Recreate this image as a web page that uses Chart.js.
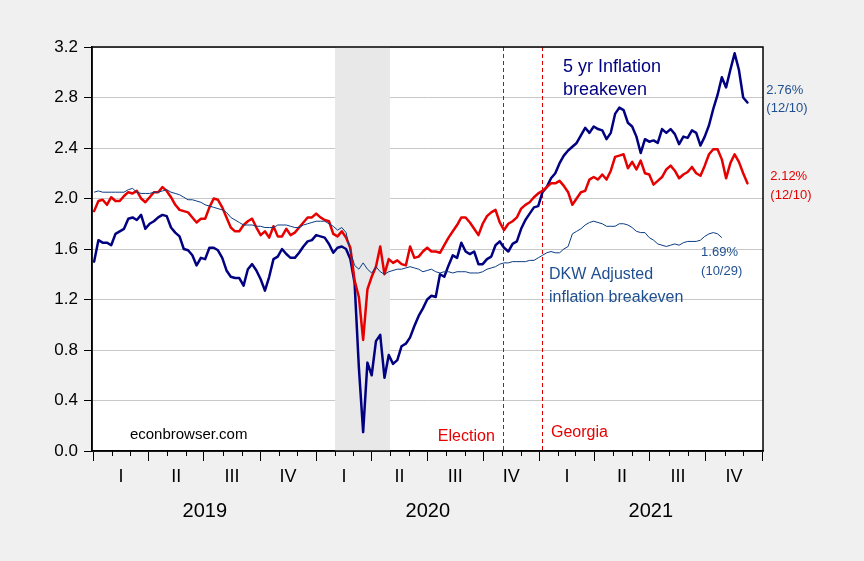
<!DOCTYPE html>
<html><head><meta charset="utf-8">
<style>html,body{margin:0;padding:0;background:#f0f0f0;overflow:hidden}</style>
<script src="https://cdn.jsdelivr.net/npm/chart.js@4.4.1/dist/chart.umd.min.js"></script>
</head><body>
<canvas id="c" width="864" height="561"></canvas>
<script>
// ---- data (weekly observations starting 2019-01-02) ----
const firstObs = [2019, 0, 2];
const stepDays = 7;
const breakeven5y = [
1.50,1.67,1.65,1.65,1.63,1.72,1.74,1.76,1.84,1.85,
1.83,1.87,1.76,1.80,1.82,1.85,1.87,1.86,1.77,1.73,
1.70,1.60,1.59,1.55,1.47,1.53,1.52,1.61,1.61,1.59,
1.53,1.43,1.38,1.37,1.37,1.31,1.44,1.48,1.43,1.36,
1.27,1.38,1.52,1.54,1.60,1.56,1.53,1.53,1.57,1.62,
1.66,1.67,1.71,1.70,1.69,1.64,1.57,1.61,1.62,
1.60,1.52,1.33,0.66,0.15,0.70,0.60,0.87,0.92,0.58,0.76,0.69,0.72,0.83,0.85,0.90,0.99,1.07,1.13,1.20,1.23,1.22,1.40,
1.38,1.47,1.55,1.53,1.65,1.58,1.56,1.58,1.48,1.48,1.52,1.54,1.63,1.66,
1.61,1.58,1.64,1.66,1.76,1.83,1.88,1.93,1.94,2.05,
2.09,2.16,2.20,2.28,2.34,2.38,2.41,2.44,2.50,2.56,
2.52,2.57,2.55,2.54,2.47,2.52,2.67,2.72,2.70,2.60,
2.57,2.49,2.36,2.47,2.45,2.46,2.44,2.55,2.52,2.55,
2.51,2.43,2.49,2.48,2.54,2.52,2.42,2.49,2.58,2.71,
2.82,2.96,2.88,3.02,3.15,3.02,2.80,2.76];
const breakevenRed = [
1.90,1.98,1.99,1.95,2.01,1.98,1.98,2.02,2.05,2.04,
2.06,2.00,1.97,2.01,2.05,2.05,2.09,2.06,2.01,1.95,
1.91,1.90,1.89,1.85,1.81,1.84,1.84,1.93,2.00,1.99,
1.93,1.85,1.77,1.74,1.74,1.79,1.82,1.84,1.77,1.71,
1.74,1.69,1.78,1.70,1.70,1.76,1.71,1.73,1.77,1.81,
1.85,1.85,1.88,1.85,1.83,1.82,1.72,1.70,1.74,
1.69,1.61,1.35,1.22,0.88,1.28,1.38,1.46,1.62,1.40,1.52,1.49,1.51,1.48,1.47,1.62,1.53,1.54,1.58,1.61,1.58,1.58,1.57,
1.63,1.69,1.74,1.79,1.85,1.85,1.81,1.76,1.71,1.80,1.86,1.89,1.91,1.81,
1.75,1.80,1.82,1.85,1.92,1.95,1.97,2.01,2.04,2.06,
2.09,2.12,2.12,2.14,2.10,2.05,1.95,2.00,2.05,2.06,
2.15,2.17,2.15,2.19,2.15,2.22,2.33,2.34,2.35,2.24,
2.29,2.23,2.30,2.20,2.19,2.11,2.14,2.17,2.23,2.26,
2.22,2.16,2.19,2.21,2.25,2.20,2.18,2.26,2.35,2.39,
2.39,2.31,2.16,2.28,2.35,2.29,2.20,2.12];
const dkwAdjusted = [
2.05,2.06,2.05,2.05,2.05,2.05,2.05,2.05,2.07,2.08,
2.05,2.04,2.04,2.04,2.05,2.05,2.06,2.07,2.05,2.04,
2.03,2.01,1.99,1.99,1.98,1.97,1.95,1.94,1.93,1.92,
1.91,1.89,1.85,1.83,1.81,1.79,1.79,1.79,1.78,1.78,
1.77,1.77,1.77,1.79,1.79,1.79,1.78,1.77,1.77,1.79,
1.80,1.81,1.82,1.82,1.82,1.80,1.78,1.75,1.77,
1.73,1.58,1.47,1.44,1.49,1.44,1.41,1.46,1.42,1.40,1.42,1.43,1.44,1.44,1.45,1.46,1.45,1.44,1.42,1.43,1.44,1.42,1.41,
1.42,1.42,1.41,1.42,1.42,1.42,1.41,1.41,1.41,1.42,1.44,1.45,1.46,1.48,
1.49,1.49,1.50,1.50,1.50,1.50,1.51,1.51,1.53,1.55,
1.57,1.58,1.57,1.57,1.60,1.62,1.72,1.74,1.76,1.79,
1.81,1.82,1.81,1.80,1.78,1.78,1.78,1.80,1.80,1.79,
1.77,1.74,1.73,1.73,1.69,1.67,1.64,1.63,1.62,1.63,
1.64,1.63,1.65,1.66,1.66,1.66,1.67,1.70,1.72,1.73,
1.72,1.69];
const quarterLabels = ['I','II','III','IV'];
const yearLabels = ['2019','2020','2021'];
const yTickValues = [0,0.4,0.8,1.2,1.6,2.0,2.4,2.8,3.2];
const recession = [[2020,1,1],[2020,4,1]];
const eventDates = [[2020,10,3],[2021,0,6]];

// ---- helpers ----
const FONT = "'Liberation Sans', Arial, Helvetica, sans-serif";
const DAY0 = Date.UTC(2019,0,1);
const dayOf = (y,m,d=1) => (Date.UTC(y,m,d)-DAY0)/86400000;
const obs0 = dayOf(...firstObs);
const toPts = arr => arr.map((v,i)=>({x: obs0 + i*stepDays, y: v}));

const monthStarts = [];
yearLabels.forEach(ys=>{ const y=+ys; for(let m=0;m<12;m++) monthStarts.push(dayOf(y,m)); });
monthStarts.push(dayOf(+yearLabels[yearLabels.length-1]+1,0));
const quarterStarts = monthStarts.filter((_,i)=>i%3===0);
const quarterMids = [];
for (let k=0;k<quarterStarts.length-1;k++) quarterMids.push({value:(quarterStarts[k]+quarterStarts[k+1])/2, label:quarterLabels[k%4]});
const yearMids = yearLabels.map((y,k)=>({value:(dayOf(+y,0)+dayOf(+y+1,0))/2, label:y}));
const key = v => Math.round(v*10);
const qLabelMap = new Map(quarterMids.map(q=>[key(q.value), q.label]));
const qStartSet = new Set(quarterStarts.map(key));
const yLabelMap = new Map(yearMids.map(q=>[key(q.value), q.label]));
const XMIN = -2.5, XMAX = dayOf(2022,0) + 1.5;

const annotations = [
  {t:'5 yr Inflation', x:769.6, y:3.00, c:'#000080', s:18},
  {t:'breakeven', x:769.6, y:2.817, c:'#000080', s:18},
  {t:'DKW Adjusted', x:746.7, y:1.365, c:'#1f4f8f', s:16},
  {t:'inflation breakeven', x:746.7, y:1.183, c:'#1f4f8f', s:16},
  {t:'1.69%', x:996, y:1.548, c:'#1f4f8f', s:13},
  {t:'(10/29)', x:996, y:1.395, c:'#1f4f8f', s:13},
  {t:'2.76%', x:1103, y:2.825, c:'#1f4f8f', s:13},
  {t:'(12/10)', x:1103, y:2.683, c:'#1f4f8f', s:13},
  {t:'2.12%', x:1109.5, y:2.143, c:'#e60000', s:13},
  {t:'(12/10)', x:1109.5, y:2.0, c:'#e60000', s:13},
  {t:'Election', x:564.5, y:0.079, c:'#e60000', s:16},
  {t:'Georgia', x:750, y:0.111, c:'#e60000', s:16},
  {t:'econbrowser.com', x:59.6, y:0.095, c:'#000000', s:15}
];

const decor = {
  id:'decor',
  beforeDraw(chart){
    const {ctx, chartArea:a} = chart;
    ctx.save();
    ctx.fillStyle='#f0f0f0'; ctx.fillRect(0,0,chart.width,chart.height);
    ctx.fillStyle='#ffffff'; ctx.fillRect(a.left,a.top,a.right-a.left,a.bottom-a.top);
    ctx.restore();
  },
  beforeDatasetsDraw(chart){
    const {ctx, chartArea:a, scales:{x}} = chart;
    ctx.save();
    const r0 = x.getPixelForValue(dayOf(...recession[0])), r1 = x.getPixelForValue(dayOf(...recession[1]));
    ctx.fillStyle='#e8e8e8'; ctx.fillRect(r0, a.top, r1-r0, a.bottom-a.top);
    ctx.strokeStyle='#e00000'; ctx.lineWidth=1; ctx.setLineDash([4,3]);
    eventDates.forEach(d=>{ const px=Math.round(x.getPixelForValue(dayOf(...d)))+0.5; ctx.beginPath(); ctx.moveTo(px,a.top); ctx.lineTo(px,a.bottom); ctx.stroke(); });
    ctx.restore();
  },
  afterDatasetsDraw(chart){
    const {ctx, chartArea:a, scales:{x,y}} = chart;
    ctx.save();
    ctx.strokeStyle='#000'; ctx.lineWidth=1.5;
    ctx.strokeRect(a.left, a.top, a.right-a.left, a.bottom-a.top);
    ctx.lineWidth=1;
    monthStarts.forEach(d=>{ if (qStartSet.has(key(d))) return; const px=Math.round(x.getPixelForValue(d))+0.5; ctx.beginPath(); ctx.moveTo(px,a.bottom); ctx.lineTo(px,a.bottom+5); ctx.stroke(); });
    ctx.textBaseline='alphabetic'; ctx.textAlign='left';
    annotations.forEach(n=>{ ctx.fillStyle=n.c; ctx.font=n.s+'px '+FONT; ctx.fillText(n.t, x.getPixelForValue(n.x), y.getPixelForValue(n.y)); });
    ctx.restore();
  }
};

new Chart(document.getElementById('c'), {
  type:'line',
  data:{ datasets:[
    {label:'DKW adjusted', data:toPts(dkwAdjusted), borderColor:'#0a3c82', borderWidth:1, pointRadius:0, tension:0},
    {label:'Breakeven (red)', data:toPts(breakevenRed), borderColor:'#e60000', borderWidth:2.5, pointRadius:0, tension:0, borderJoinStyle:'round', borderCapStyle:'round'},
    {label:'5 yr breakeven', data:toPts(breakeven5y), borderColor:'#000080', borderWidth:2.5, pointRadius:0, tension:0, borderJoinStyle:'round', borderCapStyle:'round'}
  ]},
  options:{
    responsive:false, animation:false, devicePixelRatio:1,
    layout:{padding:{left:0, right:101, top:47, bottom:30}},
    plugins:{legend:{display:false}, tooltip:{enabled:false}},
    scales:{
      x:{type:'linear', position:'bottom', min:XMIN, max:XMAX,
        afterBuildTicks:s=>{ s.ticks = [...quarterStarts.map(v=>({value:v})), ...quarterMids.map(q=>({value:q.value}))].sort((a,b)=>a.value-b.value); },
        ticks:{autoSkip:false, maxRotation:0, minRotation:0, padding:5, color:'#000', font:{family:FONT, size:18, lineHeight:1.2},
          callback:v=> qLabelMap.get(key(v)) || ''},
        grid:{drawOnChartArea:false, drawTicks:true, tickLength:10, tickWidth:1,
          tickColor:ctx=> (ctx.tick && qStartSet.has(key(ctx.tick.value))) ? '#000' : 'rgba(0,0,0,0)'},
        border:{display:true, color:'#000', width:1.5},
        afterFit:s=>{ s.height = 40; }
      },
      xYear:{type:'linear', position:'bottom', axis:'x', min:XMIN, max:XMAX,
        afterBuildTicks:s=>{ s.ticks = yearMids.map(q=>({value:q.value})); },
        ticks:{autoSkip:false, maxRotation:0, minRotation:0, padding:8, color:'#000', font:{family:FONT, size:20, lineHeight:1.2},
          callback:v=> yLabelMap.get(key(v)) || ''},
        grid:{display:false, drawTicks:false, tickLength:0},
        border:{display:false},
        afterFit:s=>{ s.height = 40; }
      },
      y:{type:'linear', min:0, max:3.2,
        afterBuildTicks:s=>{ s.ticks = yTickValues.map(v=>({value:v})); },
        ticks:{padding:6, color:'#000', font:{family:FONT, size:17}, callback:v=>Number(v).toFixed(1)},
        grid:{color:'#c8c8c8', lineWidth:1, drawTicks:true, tickLength:8, tickColor:'#000'},
        border:{display:true, color:'#000', width:1.5},
        afterFit:s=>{ s.width = 92; }
      }
    }
  },
  plugins:[decor]
});
</script>
</body></html>
